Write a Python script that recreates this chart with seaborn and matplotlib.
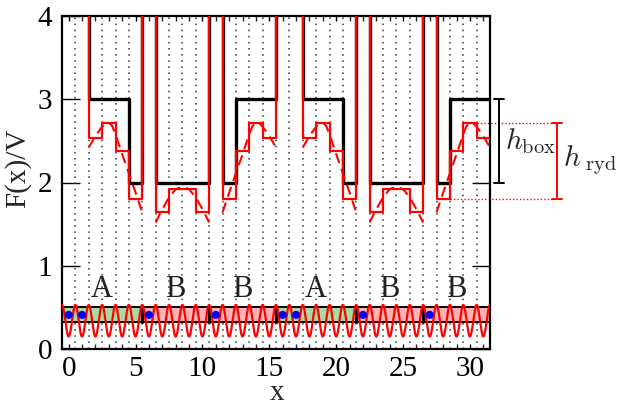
import numpy as np
import pandas as pd
import matplotlib
matplotlib.use("Agg")
import matplotlib.pyplot as plt
import seaborn as sns

# ---------------- data ----------------
WALL = 10.0  # stands for an infinite barrier (drawn off the top of the axes)

site_edges = [s - 0.5 for s in range(33)]  # -0.5 ... 31.5

box_level = [WALL, WALL, 3, 3, 3, 2, WALL, 2, 2, 2, 2, WALL, 2, 3, 3, 3,
             WALL, WALL, 3, 3, 3, 2, WALL, 2, 2, 2, 2, WALL, 2, 3, 3, 3]

ryd_level = [WALL, WALL, 2.54, 2.72, 2.38, 1.80, WALL, 1.64, 1.92, 1.92, 1.64,
             WALL, 1.80, 2.38, 2.72, 2.54,
             WALL, WALL, 2.54, 2.72, 2.38, 1.80, WALL, 1.64, 1.92, 1.92, 1.64,
             WALL, 1.80, 2.38, 2.72, 2.54]

# smooth (dashed) potential, one list per free region
smooth_x = [
    [1.5, 2.0, 2.5, 2.75, 3.0, 3.25, 3.5, 4.0, 4.5, 5.0, 5.5],
    [6.5, 7.0, 7.5, 8.0, 8.5, 9.0, 9.5, 10.0, 10.5],
    [11.5, 12.0, 12.5, 13.0, 13.5, 13.75, 14.0, 14.25, 14.5, 15.0, 15.5],
    [17.5, 18.0, 18.5, 18.75, 19.0, 19.25, 19.5, 20.0, 20.5, 21.0, 21.5],
    [22.5, 23.0, 23.5, 24.0, 24.5, 25.0, 25.5, 26.0, 26.5],
    [27.5, 28.0, 28.5, 29.0, 29.5, 29.75, 30.0, 30.25, 30.5, 31.0, 31.5],
]
smooth_y = [
    [2.42, 2.56, 2.67, 2.71, 2.72, 2.68, 2.58, 2.34, 2.11, 1.88, 1.64],
    [1.52, 1.68, 1.82, 1.92, 1.95, 1.92, 1.82, 1.68, 1.52],
    [1.64, 1.88, 2.11, 2.34, 2.58, 2.68, 2.72, 2.71, 2.67, 2.56, 2.42],
    [2.42, 2.56, 2.67, 2.71, 2.72, 2.68, 2.58, 2.34, 2.11, 1.88, 1.64],
    [1.52, 1.68, 1.82, 1.92, 1.95, 1.92, 1.82, 1.68, 1.52],
    [1.64, 1.88, 2.11, 2.34, 2.58, 2.68, 2.72, 2.71, 2.67, 2.56, 2.42],
]

block_start = [-0.5, 5.5, 10.5, 15.5, 21.5, 26.5]
block_end = [5.5, 10.5, 15.5, 21.5, 26.5, 31.5]
block_type = ["A", "B", "B", "A", "B", "B"]

atom_x = [0, 1, 6, 11, 16, 17, 22, 27]

# lattice schematic parameters
lattice_offset = 0.34
lattice_depth = 0.19
band_low, band_high = 0.32, 0.50
atom_level = 0.41
label_level = 0.72

h_box = (2.0, 3.0)
h_ryd = (1.80, 2.72)

x_ticks = [0, 5, 10, 15, 20, 25, 30]
y_ticks = [0, 1, 2, 3, 4]

# ---------------- style ----------------
sns.set_theme(style="white")
plt.rcParams["font.family"] = "serif"
plt.rcParams["font.serif"] = ["Liberation Serif", "DejaVu Serif"]
plt.rcParams["mathtext.fontset"] = "cm"

fig = plt.figure(figsize=(6.17, 4.07), dpi=100)
ax = fig.add_axes([62 / 617, 1 - 349 / 407, 428 / 617, 333 / 407])

RED = "#ff0000"
block_color = {"A": "#a9d9a5", "B": "#ffb3b3"}

# dotted site grid
for e in site_edges[1:-1]:
    ax.plot([e, e], [0, 4], color="#333333", lw=1.1, ls=(0, (1, 3)), zorder=1)

# lattice band
for s, e, t in zip(block_start, block_end, block_type):
    ax.fill_between([s, e], band_low, band_high, color=block_color[t], lw=0, zorder=2)
    ax.text((s + e) / 2, label_level, t, ha="center", va="center",
            fontsize=22, color="#222222", zorder=6)
ax.axhline(band_low, color="black", lw=1.4, zorder=3)
ax.axhline(band_high, color="black", lw=1.4, zorder=3)
for b in block_start[1:]:
    ax.plot([b, b], [band_low, band_high], color="black", lw=2.2, zorder=3)

# optical lattice
xx = np.linspace(-0.5, 31.5, 1600)
lat = pd.DataFrame({"x": xx, "V": lattice_offset - lattice_depth * np.cos(2 * np.pi * xx)})
sns.lineplot(data=lat, x="x", y="V", color=RED, lw=1.6, ax=ax, zorder=4)

# atoms
sns.scatterplot(x=atom_x, y=[atom_level] * len(atom_x), color="#0000ff", s=34,
                edgecolor="none", ax=ax, zorder=5)

# box potential (black) and Rydberg-dressed staircase (red)
box_df = pd.DataFrame({"x": site_edges, "F": box_level + [box_level[-1]]})
sns.lineplot(data=box_df, x="x", y="F", estimator=None, sort=False,
             drawstyle="steps-post", color="black", lw=2.4, ax=ax, zorder=6)
ryd_df = pd.DataFrame({"x": site_edges, "F": ryd_level + [ryd_level[-1]]})
sns.lineplot(data=ryd_df, x="x", y="F", estimator=None, sort=False,
             drawstyle="steps-post", color=RED, lw=1.6, ax=ax, zorder=7)

# smooth potential (dashed)
rows = []
for i, (xs, ys) in enumerate(zip(smooth_x, smooth_y)):
    for a, b in zip(xs, ys):
        rows.append({"seg": i, "x": a, "F": b})
sm = pd.DataFrame(rows)
for i, g in sm.groupby("seg"):
    sns.lineplot(data=g, x="x", y="F", estimator=None, sort=False, color=RED,
                 lw=1.5, linestyle=(0, (5, 3)), ax=ax, zorder=7)

# annotations on the right
bx, rx = 32.2, 36.5
cap = 0.37
ax.plot([bx, bx], list(h_box), color="black", lw=1.4, clip_on=False, zorder=8)
for yv in h_box:
    ax.plot([bx - cap, bx + cap], [yv, yv], color="black", lw=1.4, clip_on=False)
ax.text(32.6, sum(h_box) / 2, r"$h_{\rm box}$", fontsize=21, ha="left",
        va="center", clip_on=False)

ax.plot([30.5, rx], [h_ryd[1], h_ryd[1]], color=RED, lw=1.0, ls=(0, (1, 1.5)), clip_on=False)
ax.plot([28.5, rx], [h_ryd[0], h_ryd[0]], color=RED, lw=1.0, ls=(0, (1, 1.5)), clip_on=False)
ax.plot([rx, rx], list(h_ryd), color=RED, lw=1.4, clip_on=False)
for yv in h_ryd:
    ax.plot([rx - cap, rx + cap], [yv, yv], color=RED, lw=1.4, clip_on=False)
ax.text(36.95, 2.27, r"$h_{\ \rm ryd}$", fontsize=21, ha="left", va="center",
        clip_on=False)

# axes
ax.set_xlim(-0.5, 31.5)
ax.set_ylim(0, 4)
ax.set_xticks(x_ticks)
ax.set_xticks(np.arange(0, 32, 1), minor=True)
ax.set_yticks(y_ticks)
ax.tick_params(axis="both", labelsize=21, colors="black")
ax.tick_params(axis="x", which="both", direction="in", length=3.5, width=1,
               top=True, bottom=True, pad=5)
ax.tick_params(axis="y", which="major", direction="in", length=13, width=1,
               left=True, right=True, pad=7)
for sp in ax.spines.values():
    sp.set_color("black")
    sp.set_linewidth(1.6)
ax.set_xlabel("")
ax.set_ylabel("")
fig.text(18 / 617, 1 - 168 / 407, "F(x)/V", rotation=90, ha="center",
         va="center", fontsize=21)
fig.text(277 / 617, 1 - 393 / 407, "x", ha="center", va="center", fontsize=21)

fig.savefig("out.png", dpi=100)
